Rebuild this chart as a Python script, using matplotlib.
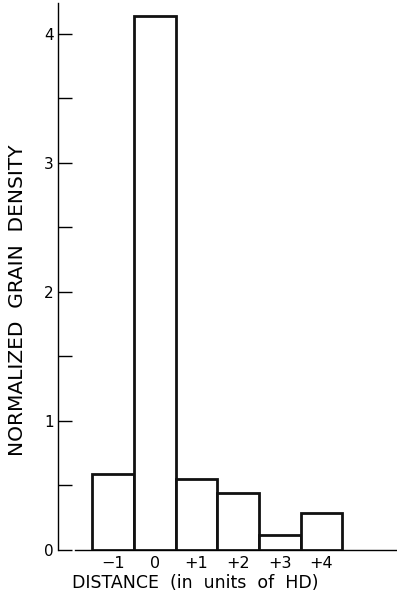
import matplotlib.pyplot as plt
from matplotlib.ticker import MultipleLocator

plt.rcParams['font.family'] = ['DejaVu Sans']

distance = [-1, 0, 1, 2, 3, 4]
density = [0.59, 4.14, 0.55, 0.44, 0.12, 0.29]
x_labels = ["\u22121", "0", "+1", "+2", "+3", "+4"]

fig = plt.figure(figsize=(3.97, 6.0), dpi=100)
ax = fig.add_axes([58 / 397, 50 / 600, 339 / 397, 547 / 600])

ax.bar(distance, density, width=1.0, color="white", edgecolor="#111111",
       linewidth=2.0, zorder=3)

ax.set_xlim(-2.32, 5.81)
ax.set_ylim(0, 4.24)

for side in ("top", "right"):
    ax.spines[side].set_visible(False)
ax.spines["left"].set_linewidth(1.0)
ax.spines["bottom"].set_linewidth(1.0)
ax.spines["bottom"].set_bounds(-1.92, 5.81)

ax.set_yticks([0, 1, 2, 3, 4])
ax.yaxis.set_minor_locator(MultipleLocator(0.5))
ax.tick_params(axis="y", which="both", direction="in", length=10, width=1.0,
               labelsize=11, pad=3)
ax.set_xticks(distance)
ax.set_xticklabels(x_labels)
ax.tick_params(axis="x", direction="in", length=7, width=0.8,
               labelsize=11.5, pad=4)

ax.set_xlabel("DISTANCE  (in  units  of  HD)", fontsize=12.5)
ax.set_ylabel("NORMALIZED  GRAIN  DENSITY", fontsize=14.5)
ax.xaxis.set_label_coords(0.405, -0.044)
ax.yaxis.set_label_coords(-0.092, 0.457)

fig.savefig("out.png", dpi=100)
